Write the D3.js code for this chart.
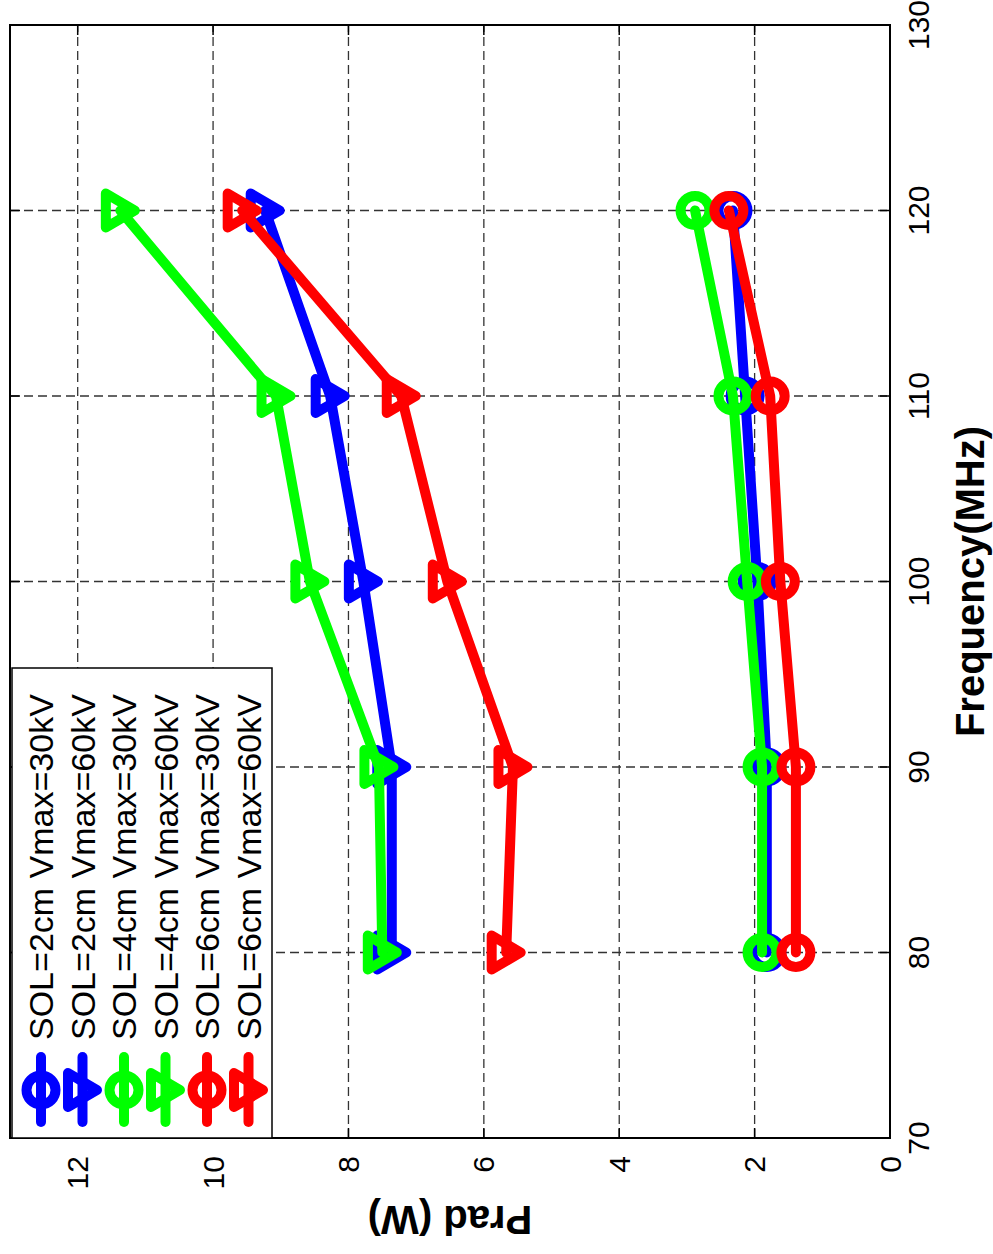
<!DOCTYPE html>
<html>
<head>
<meta charset="utf-8">
<script src="https://cdn.jsdelivr.net/npm/d3@7"></script>
<style>
  html, body { margin: 0; padding: 0; background: #fff; }
  svg { display: block; }
  text { font-family: "Liberation Sans", Arial, Helvetica, sans-serif; }
</style>
</head>
<body>
<svg id="chart" width="993" height="1254"></svg>
<script>
// ---- data ----
const freqs = [80, 90, 100, 110, 120];
const freqTicks = [70, 80, 90, 100, 110, 120, 130];
const pradTicks = [0, 2, 4, 6, 8, 10, 12];
const seriesNames = [
  "SOL=2cm Vmax=30kV", "SOL=2cm Vmax=60kV",
  "SOL=4cm Vmax=30kV", "SOL=4cm Vmax=60kV",
  "SOL=6cm Vmax=30kV", "SOL=6cm Vmax=60kV"
];
const sol2_30 = [1.82, 1.82, 1.96, 2.14, 2.32];
const sol2_60 = [7.36, 7.36, 7.78, 8.27, 9.23];
const sol4_30 = [1.89, 1.89, 2.11, 2.32, 2.88];
const sol4_60 = [7.50, 7.55, 8.57, 9.07, 11.37];
const sol6_30 = [1.39, 1.39, 1.62, 1.77, 2.38];
const sol6_60 = [5.67, 5.57, 6.54, 7.22, 9.57];
const seriesValues = [sol2_30, sol2_60, sol4_30, sol4_60, sol6_30, sol6_60];
const seriesColors = ["#0000ff", "#0000ff", "#00ff00", "#00ff00", "#ff0000", "#ff0000"];
const seriesMarkers = ["circle", "triangle", "circle", "triangle", "circle", "triangle"];

// ---- layout (chart drawn unrotated, then the whole group rotated -90deg) ----
const W = 1113, H = 880;
const svg = d3.select("#chart");
const g = svg.append("g").attr("transform", "translate(10,1138) rotate(-90)");

const x = d3.scaleLinear().domain([70, 130]).range([0, W]);
const y = d3.scaleLinear().domain([0, 13]).range([H, 0]);

// grid
const grid = g.append("g");
grid.selectAll("line.gx").data(freqTicks.slice(1, -1)).join("line")
  .attr("x1", d => x(d)).attr("x2", d => x(d)).attr("y1", 0).attr("y2", H)
  .attr("stroke", "#333").attr("stroke-width", 1.3).attr("stroke-dasharray", "9,5");
grid.selectAll("line.gy").data(pradTicks.slice(1)).join("line")
  .attr("x1", 0).attr("x2", W).attr("y1", d => y(d)).attr("y2", d => y(d))
  .attr("stroke", "#333").attr("stroke-width", 1.3).attr("stroke-dasharray", "9,5");

// markers
const triPath = "M-17,-14.5 L17,-14.5 L0,14.5 Z";
function drawMarker(sel, type, color) {
  if (type === "circle") {
    sel.append("circle").attr("r", 14.5).attr("fill", "none")
      .attr("stroke", color).attr("stroke-width", 10);
  } else {
    sel.append("path").attr("d", triPath).attr("fill", "none")
      .attr("stroke", color).attr("stroke-width", 10).attr("stroke-linejoin", "round");
  }
}

const line = d3.line().x(d => x(d[0])).y(d => y(d[1]));
seriesValues.forEach((vals, i) => {
  const pts = freqs.map((f, j) => [f, vals[j]]);
  const sg = g.append("g");
  sg.append("path").attr("d", line(pts)).attr("fill", "none")
    .attr("stroke", seriesColors[i]).attr("stroke-width", 10)
    .attr("stroke-linecap", "round").attr("stroke-linejoin", "round");
  pts.forEach(p => {
    const m = sg.append("g").attr("transform", `translate(${x(p[0])},${y(p[1])})`);
    drawMarker(m, seriesMarkers[i], seriesColors[i]);
  });
});

// axes box + ticks
const ax = g.append("g");
ax.append("rect").attr("x", 0).attr("y", 0).attr("width", W).attr("height", H)
  .attr("fill", "none").attr("stroke", "#000").attr("stroke-width", 2);
const tl = 10;
freqTicks.forEach(t => {
  ax.append("line").attr("x1", x(t)).attr("x2", x(t)).attr("y1", H).attr("y2", H - tl).attr("stroke", "#000").attr("stroke-width", 1.5);
  ax.append("line").attr("x1", x(t)).attr("x2", x(t)).attr("y1", 0).attr("y2", tl).attr("stroke", "#000").attr("stroke-width", 1.5);
  ax.append("text").attr("x", x(t)).attr("y", H + 28)
    .attr("text-anchor", "middle").attr("dominant-baseline", "central")
    .attr("font-size", 30).text(t);
});
pradTicks.forEach(t => {
  ax.append("line").attr("x1", 0).attr("x2", tl).attr("y1", y(t)).attr("y2", y(t)).attr("stroke", "#000").attr("stroke-width", 1.5);
  ax.append("line").attr("x1", W).attr("x2", W - tl).attr("y1", y(t)).attr("y2", y(t)).attr("stroke", "#000").attr("stroke-width", 1.5);
  ax.append("text").attr("x", -18).attr("y", y(t))
    .attr("text-anchor", "end").attr("dominant-baseline", "central")
    .attr("font-size", 30).text(t);
});

// axis labels
g.append("text").attr("x", W / 2).attr("y", H + 80)
  .attr("text-anchor", "middle").attr("dominant-baseline", "central")
  .attr("font-size", 40).attr("font-weight", "bold").text("Frequency(MHz)");
g.append("text").attr("transform", `translate(-82,${H / 2}) rotate(-90)`)
  .attr("text-anchor", "middle").attr("dominant-baseline", "central")
  .attr("font-size", 40).attr("font-weight", "bold").text("Prad (W)");

// legend
const lg = g.append("g");
lg.append("rect").attr("x", 0).attr("y", 2).attr("width", 470).attr("height", 260)
  .attr("fill", "#fff").attr("stroke", "#000").attr("stroke-width", 1.5);
seriesNames.forEach((name, i) => {
  const ry = 31 + i * 41.5;
  lg.append("line").attr("x1", 16).attr("x2", 81).attr("y1", ry).attr("y2", ry)
    .attr("stroke", seriesColors[i]).attr("stroke-width", 10).attr("stroke-linecap", "round");
  const m = lg.append("g").attr("transform", `translate(48,${ry})`);
  drawMarker(m, seriesMarkers[i], seriesColors[i]);
  lg.append("text").attr("x", 98).attr("y", ry)
    .attr("dominant-baseline", "central").attr("font-size", 34).text(name);
});
</script>
</body>
</html>
